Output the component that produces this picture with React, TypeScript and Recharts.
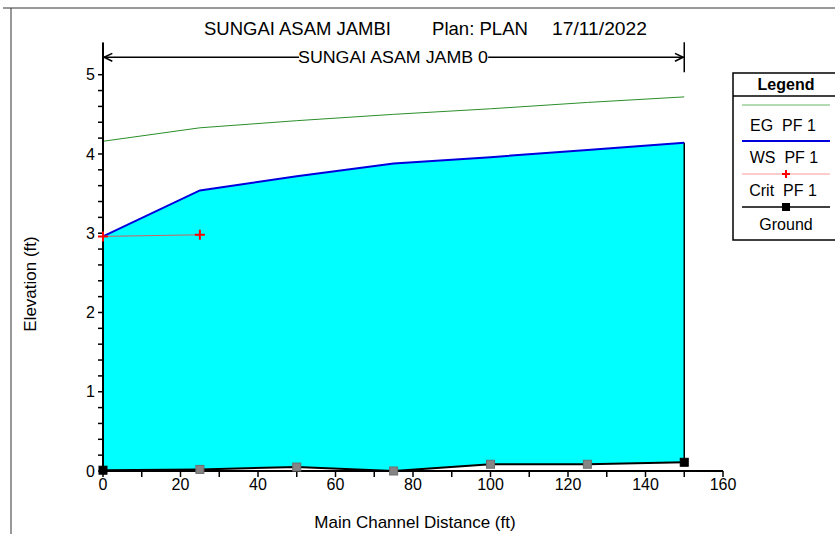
import React from "react";
import { ComposedChart, Area, Line, XAxis, YAxis, ReferenceLine } from "recharts";

// ─────────────────────────────────────────────────────────────────────────────
// Data
// ─────────────────────────────────────────────────────────────────────────────

const stations = [0, 25, 50, 75, 100, 125, 150];
const egPF1    = [4.16, 4.33, 4.42, 4.50, 4.57, 4.65, 4.72];
const wsPF1    = [2.96, 3.54, 3.72, 3.88, 3.96, 4.05, 4.14];
const critPF1  = [2.96, 2.98, null, null, null, null, null];
const ground   = [0.01, 0.02, 0.05, 0.0, 0.085, 0.085, 0.11];
const interp   = [false, true, true, true, true, true, false];

const xTicks = [0, 10, 20, 30, 40, 50, 60, 70, 80, 90, 100, 110, 120, 130, 140, 150, 160];
const yTicks = [
  0, 0.2, 0.4, 0.6, 0.8, 1, 1.2, 1.4, 1.6, 1.8, 2, 2.2, 2.4, 2.6, 2.8,
  3, 3.2, 3.4, 3.6, 3.8, 4, 4.2, 4.4, 4.6, 4.8, 5,
];

const reachName = "SUNGAI ASAM JAMB 0";

const data = stations.map((s, i) => ({
  dist:   s,
  eg:     egPF1[i],
  ws:     wsPF1[i],
  crit:   critPF1[i],
  ground: ground[i],
  band:   [ground[i], wsPF1[i]],
}));

const FONT = "'Liberation Sans', Arial, sans-serif";
const tickStyle = { fill: "#000", fontSize: 16, fontFamily: FONT };

// ─────────────────────────────────────────────────────────────────────────────
// Markers
// ─────────────────────────────────────────────────────────────────────────────

function GroundDot(props: any) {
  const { cx, cy, index } = props;
  if (cx == null || cy == null) return <g key={`g${index}`} />;
  const gray = interp[index];
  return (
    <rect
      key={`g${index}`}
      x={cx - 4} y={cy - 4} width={8} height={8}
      fill={gray ? "#858585" : "#000"}
      stroke={gray ? "#6e6e6e" : "#000"}
      strokeWidth={1}
    />
  );
}

function CrossDot(props: any) {
  const { cx, cy, index } = props;
  if (cx == null || cy == null) return <g key={`c${index}`} />;
  return (
    <path
      key={`c${index}`}
      d={`M${cx - 5},${cy}H${cx + 5}M${cx},${cy - 5}V${cy + 5}`}
      stroke="#ff0000" strokeWidth={2} fill="none"
    />
  );
}

// ─────────────────────────────────────────────────────────────────────────────
// Chart
// ─────────────────────────────────────────────────────────────────────────────

export default function App() {
  const last = stations.length - 1;
  const reachY = 5.22;

  return (
    <div style={{ position: "absolute", left: 0, top: 0, width: 835, height: 534, background: "#fff" }}>
      <ComposedChart
        width={835}
        height={534}
        data={data}
        margin={{ top: 43, right: 112, bottom: 33, left: 53 }}
      >
        <XAxis
          dataKey="dist"
          type="number"
          domain={[0, 160]}
          ticks={xTicks}
          interval={0}
          tickFormatter={(v: number) => (v % 20 === 0 ? String(v) : "")}
          tick={tickStyle}
          tickSize={6}
          tickLine={{ stroke: "#000", strokeWidth: 1.5 }}
          axisLine={{ stroke: "#000", strokeWidth: 2 }}
          height={30}
        />
        <YAxis
          type="number"
          domain={[0, 5.4]}
          ticks={yTicks}
          interval={0}
          tickFormatter={(v: number) => (Number.isInteger(v) ? String(v) : "")}
          tick={tickStyle}
          tickSize={5}
          tickMargin={3}
          tickLine={{ stroke: "#000", strokeWidth: 1.5 }}
          axisLine={{ stroke: "#000", strokeWidth: 2 }}
          width={50}
        />

        {/* water between ground and WS */}
        <Area
          dataKey="band"
          type="linear"
          fill="#00ffff"
          fillOpacity={1}
          stroke="none"
          dot={false}
          activeDot={false}
          isAnimationActive={false}
        />

        <ReferenceLine
          segment={[{ x: stations[last], y: ground[last] }, { x: stations[last], y: wsPF1[last] }]}
          stroke="#000" strokeWidth={1.5} ifOverflow="visible"
        />

        {/* reach marker */}
        <ReferenceLine segment={[{ x: 0, y: 5.03 }, { x: 0, y: 5.41 }]} stroke="#000" strokeWidth={1.5} ifOverflow="visible" />
        <ReferenceLine segment={[{ x: 150, y: 5.03 }, { x: 150, y: 5.41 }]} stroke="#000" strokeWidth={1.5} ifOverflow="visible" />
        <ReferenceLine segment={[{ x: 0, y: reachY }, { x: 50.6, y: reachY }]} stroke="#000" strokeWidth={1.5} ifOverflow="visible" />
        <ReferenceLine segment={[{ x: 99.4, y: reachY }, { x: 150, y: reachY }]} stroke="#000" strokeWidth={1.5} ifOverflow="visible" />
        <ReferenceLine segment={[{ x: 0.3, y: reachY }, { x: 2.4, y: reachY + 0.05 }]} stroke="#000" strokeWidth={1.5} ifOverflow="visible" />
        <ReferenceLine segment={[{ x: 0.3, y: reachY }, { x: 2.4, y: reachY - 0.05 }]} stroke="#000" strokeWidth={1.5} ifOverflow="visible" />
        <ReferenceLine segment={[{ x: 149.7, y: reachY }, { x: 147.6, y: reachY + 0.05 }]} stroke="#000" strokeWidth={1.5} ifOverflow="visible" />
        <ReferenceLine segment={[{ x: 149.7, y: reachY }, { x: 147.6, y: reachY - 0.05 }]} stroke="#000" strokeWidth={1.5} ifOverflow="visible" />

        <Line
          dataKey="ground"
          type="linear"
          stroke="#000"
          strokeWidth={2}
          dot={GroundDot}
          activeDot={false}
          isAnimationActive={false}
        />
        <Line
          dataKey="ws"
          type="linear"
          stroke="#0000dd"
          strokeWidth={2}
          dot={false}
          activeDot={false}
          isAnimationActive={false}
        />
        <Line
          dataKey="eg"
          type="linear"
          stroke="#2a8f2a"
          strokeWidth={1}
          dot={false}
          activeDot={false}
          isAnimationActive={false}
        />
        <Line
          dataKey="crit"
          type="linear"
          stroke="#d06060"
          strokeWidth={1}
          connectNulls={false}
          dot={CrossDot}
          activeDot={false}
          isAnimationActive={false}
        />
      </ComposedChart>

      {/* frame, titles, legend */}
      <svg
        width={835}
        height={534}
        style={{ position: "absolute", left: 0, top: 0, pointerEvents: "none" }}
      >
        <path d="M3,8H835M11,8V534" stroke="#333" strokeWidth={1} fill="none" />

        <g fontFamily={FONT} fill="#000">
          <text x={204} y={35} fontSize={19} textLength={187} lengthAdjust="spacingAndGlyphs">SUNGAI ASAM JAMBI</text>
          <text x={432} y={35} fontSize={19} textLength={96} lengthAdjust="spacingAndGlyphs">Plan: PLAN</text>
          <text x={552} y={35} fontSize={19} textLength={95} lengthAdjust="spacingAndGlyphs">17/11/2022</text>

          <text x={298} y={63} fontSize={16} textLength={190} lengthAdjust="spacingAndGlyphs">{reachName}</text>

          <text x={415} y={528} fontSize={17} textAnchor="middle">Main Channel Distance (ft)</text>
          <text x={36} y={284} fontSize={17} textAnchor="middle" transform="rotate(-90 36 284)">Elevation (ft)</text>
        </g>

        {/* legend */}
        <g fontFamily={FONT} fill="#000">
          <rect x={733} y={73} width={110} height={167} fill="#fff" stroke="#000" strokeWidth={1.5} />
          <line x1={733} y1={96} x2={835} y2={96} stroke="#000" strokeWidth={1.5} />
          <text x={786} y={90} fontSize={16} fontWeight="bold" textAnchor="middle">Legend</text>

          <line x1={742} y1={105} x2={830} y2={105} stroke="#66b866" strokeWidth={1} />
          <text x={783} y={131} fontSize={16} textAnchor="middle" style={{ whiteSpace: "pre" }}>EG  PF 1</text>

          <line x1={742} y1={141} x2={830} y2={141} stroke="#0000dd" strokeWidth={2} />
          <text x={784} y={163} fontSize={16} textAnchor="middle" style={{ whiteSpace: "pre" }}>WS  PF 1</text>

          <line x1={742} y1={174} x2={830} y2={174} stroke="#ff9a9a" strokeWidth={1} />
          <path d="M782,174H790M786,170V178" stroke="#ff0000" strokeWidth={2} />
          <text x={783} y={196} fontSize={16} textAnchor="middle" style={{ whiteSpace: "pre" }}>Crit  PF 1</text>

          <line x1={742} y1={207} x2={830} y2={207} stroke="#000" strokeWidth={1.5} />
          <rect x={782} y={203} width={8} height={8} fill="#000" />
          <text x={786} y={230} fontSize={16} textAnchor="middle">Ground</text>
        </g>
      </svg>
    </div>
  );
}
